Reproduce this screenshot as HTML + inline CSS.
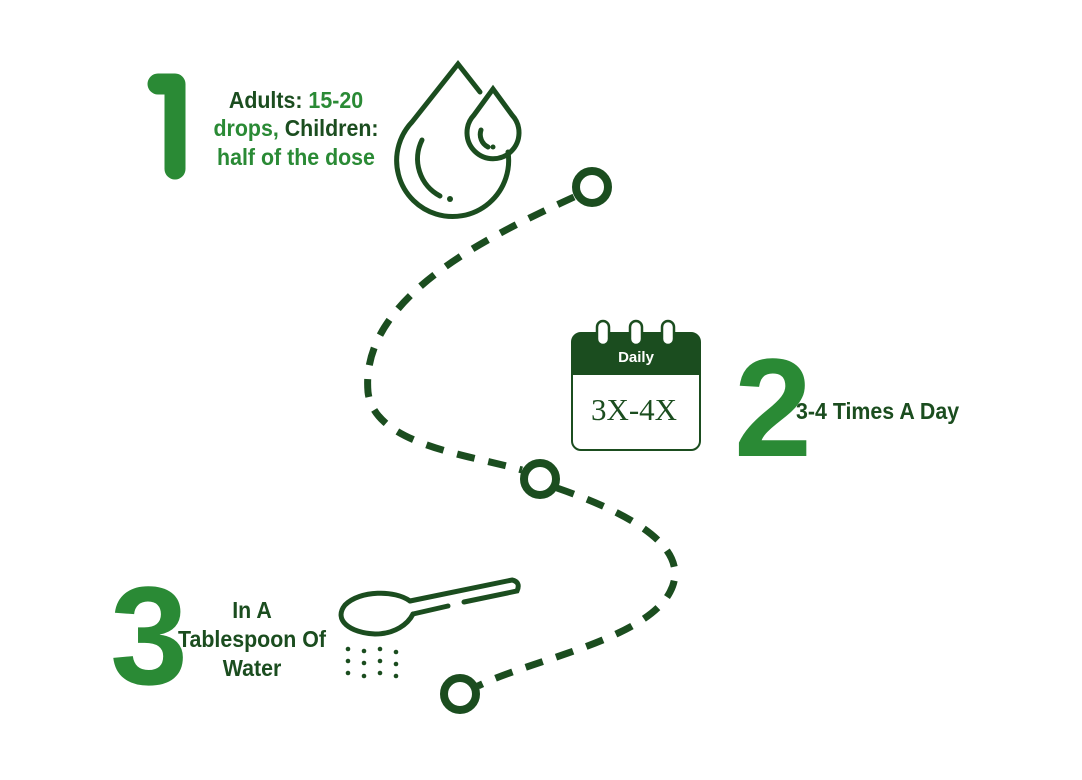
<!DOCTYPE html>
<html><head><meta charset="utf-8"><style>
html,body{margin:0;padding:0;background:#fff;}
svg{display:block}
.t{font-family:"Liberation Sans",sans-serif;font-weight:bold;font-size:23px;}
</style></head><body>
<svg width="1082" height="780" viewBox="0 0 1082 780" xmlns="http://www.w3.org/2000/svg">
<g fill="none" stroke="#1b4d1f" stroke-width="7" stroke-dasharray="18 14">
<path d="M574,197 C480,240 360,300 368,392 C374,445 470,455 522,470"/>
<path d="M557,488 C620,510 695,545 670,592 C645,640 530,660 478,686"/>
</g>
<g fill="none" stroke="#1b4d1f" stroke-width="8">
<circle cx="592" cy="187" r="16"/>
<circle cx="540" cy="479" r="16"/>
<circle cx="460" cy="694" r="16"/>
</g>
<path d="M158,84 L175,84 L175,169" fill="none" stroke="#2a8a35" stroke-width="21" stroke-linecap="round" stroke-linejoin="round"/>
<text class="t" x="296" y="108" text-anchor="middle" transform="translate(296 0) scale(0.93 1) translate(-296 0)"><tspan fill="#1b4d1f">Adults: </tspan><tspan fill="#2a8a35">15-20</tspan></text>
<text class="t" x="296" y="136" text-anchor="middle" transform="translate(296 0) scale(0.93 1) translate(-296 0)"><tspan fill="#2a8a35">drops, </tspan><tspan fill="#1b4d1f">Children:</tspan></text>
<text class="t" x="296" y="165" text-anchor="middle" fill="#2a8a35" transform="translate(296 0) scale(0.93 1) translate(-296 0)">half of the dose</text>
<g fill="none" stroke="#1b4d1f" stroke-width="5" stroke-linecap="round">
<path d="M480,92 L458,64 L412,122 A56,56 0 1 0 508,152"/>
<path d="M493,89 L474,115 A26,26 0 1 0 512,115 Z"/>
<path d="M422,140 A42,42 0 0 0 440,196"/>
<path d="M481,130 A14,14 0 0 0 488,147"/>
</g>
<circle cx="450" cy="199" r="3" fill="#1b4d1f"/>
<circle cx="493" cy="147" r="2.5" fill="#1b4d1f"/>
<rect x="572" y="333" width="128" height="117" rx="9" fill="#fff" stroke="#1b4d1f" stroke-width="2"/>
<path d="M572,375 L572,342 Q572,333 581,333 L691,333 Q700,333 700,342 L700,375 Z" fill="#1b4d1f"/>
<g fill="#fff" stroke="#1b4d1f" stroke-width="2.5">
<rect x="597" y="321" width="12" height="24" rx="6"/>
<rect x="630" y="321" width="12" height="24" rx="6"/>
<rect x="662" y="321" width="12" height="24" rx="6"/>
</g>
<text x="636" y="362" text-anchor="middle" fill="#fff" font-family="Liberation Sans,sans-serif" font-weight="bold" font-size="15">Daily</text>
<text x="634" y="420" text-anchor="middle" fill="#1b4d1f" font-family="Liberation Serif,serif" font-size="31">3X-4X</text>
<text x="773" y="456" text-anchor="middle" fill="#2a8a35" font-family="Liberation Sans,sans-serif" font-weight="bold" font-size="140">2</text>
<text class="t" x="796" y="419" fill="#1b4d1f" transform="translate(796 0) scale(0.93 1) translate(-796 0)">3-4 Times A Day</text>
<text x="149" y="684" text-anchor="middle" fill="#2a8a35" font-family="Liberation Sans,sans-serif" font-weight="bold" font-size="140">3</text>
<text class="t" x="252" y="618" text-anchor="middle" fill="#1b4d1f" transform="translate(252 0) scale(0.93 1) translate(-252 0)">In A</text>
<text class="t" x="252" y="647" text-anchor="middle" fill="#1b4d1f" transform="translate(252 0) scale(0.93 1) translate(-252 0)">Tablespoon Of</text>
<text class="t" x="252" y="676" text-anchor="middle" fill="#1b4d1f" transform="translate(252 0) scale(0.93 1) translate(-252 0)">Water</text>
<g fill="none" stroke="#1b4d1f" stroke-width="5" stroke-linecap="round">
<path d="M410,601 C395,590 360,590 345,605 C333,620 350,633 375,634 C395,634 408,624 413,614"/>
<path d="M410,601 L512,580 Q521,582 517,591 L464,602"/>
<path d="M413,614 L448,606"/>
</g>
<g fill="#1b4d1f">
<circle cx="348" cy="649" r="2.3"/><circle cx="364" cy="651" r="2.3"/><circle cx="380" cy="649" r="2.3"/><circle cx="396" cy="652" r="2.3"/>
<circle cx="348" cy="661" r="2.3"/><circle cx="364" cy="663" r="2.3"/><circle cx="380" cy="661" r="2.3"/><circle cx="396" cy="664" r="2.3"/>
<circle cx="348" cy="673" r="2.3"/><circle cx="364" cy="676" r="2.3"/><circle cx="380" cy="673" r="2.3"/><circle cx="396" cy="676" r="2.3"/>
</g>
</svg>
</body></html>
